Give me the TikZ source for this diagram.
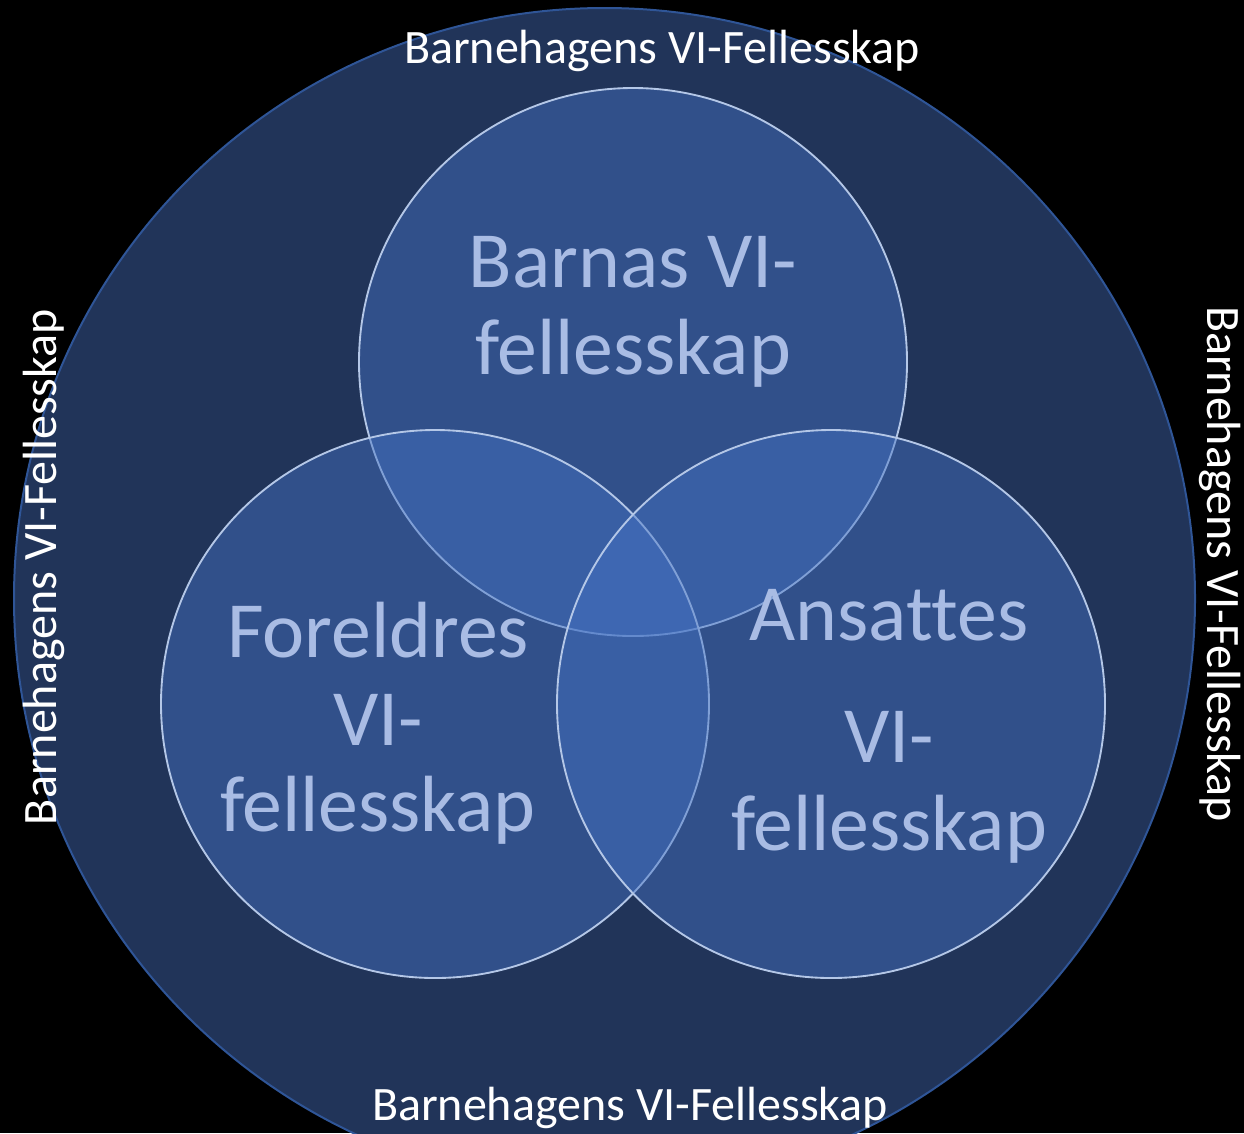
\documentclass[tikz,border=0pt]{standalone}
\usepackage{fontspec}
\setmainfont{Carlito}[Ligatures=NoCommon]
\definecolor{bigfill}{HTML}{213459}
\definecolor{bigline}{HTML}{2F5597}
\definecolor{smallfill}{HTML}{4472C4}
\definecolor{smallline}{HTML}{B4C7E7}
\definecolor{innertext}{HTML}{A9BCE4}
\tikzset{
  bigcirc/.style={circle, draw=bigline, line width=1.5pt, fill=bigfill, minimum size=885.75pt, inner sep=0pt},
  smallcirc/.style={circle, draw=smallline, line width=1.4pt, fill=smallfill, fill opacity=0.46, minimum size=411pt, inner sep=0pt},
  outerlabel/.style={text=white, font=\fontsize{36}{42}\selectfont, inner sep=0pt},
  innerlabel/.style={text=innertext, font=\fontsize{59.8}{66}\selectfont, inner sep=0pt, anchor=base},
}
\begin{document}
\begin{tikzpicture}[x=0.75pt,y=-0.75pt]
  \fill[black] (0,0) rectangle (1244,1133);
  \useasboundingbox (0,0) rectangle (1244,1133);
  \begin{scope}
    \clip (0,0) rectangle (1244,1133);
    \node[bigcirc] (outer) at (604.5,598.5) {};
  \end{scope}
  \node[smallcirc] (top) at (633,362) {};
  \node[smallcirc] (left) at (435,704) {};
  \node[smallcirc] (right) at (831,704) {};
  % inner labels
  \node[innerlabel] (b1) at (633,287) {Barnas VI-};
  \node[innerlabel] (b2) at (633,374) {fellesskap};
  \node[innerlabel] (f1) at (378,657) {Foreldres};
  \node[innerlabel] (f2) at (378,745) {VI-};
  \node[innerlabel] (f3) at (378,831) {fellesskap};
  \node[innerlabel] (a1) at (889,640) {Ansattes};
  \node[innerlabel] (a2) at (889,762) {VI-};
  \node[innerlabel] (a3) at (889,850) {fellesskap};
  % outer labels
  \node[outerlabel, anchor=base] (ltop) at (662,63) {Barnehagens VI-Fellesskap};
  \node[outerlabel, anchor=base] (lbot) at (630,1120) {Barnehagens VI-Fellesskap};
  \node[outerlabel, rotate=90] (lleft) at (44,567) {Barnehagens VI-Fellesskap};
  \node[outerlabel, rotate=-90] (lright) at (1220,564) {Barnehagens VI-Fellesskap};
\end{tikzpicture}
\end{document}
